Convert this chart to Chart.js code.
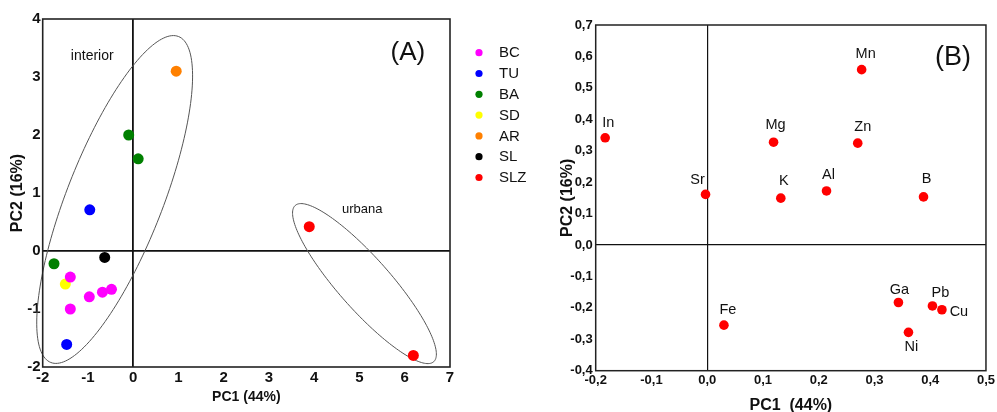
<!DOCTYPE html>
<html>
<head>
<meta charset="utf-8">
<script src="https://cdn.jsdelivr.net/npm/chart.js@4.4.1/dist/chart.umd.min.js"></script>
<style>
  html, body { margin: 0; padding: 0; background: #fff; overflow: hidden; }
  #wrap { position: relative; width: 997px; height: 412px; overflow: hidden; }
  #chartA { position: absolute; left: 0; top: 0; }
  #chartB { position: absolute; left: 545px; top: 0; }
</style>
</head>
<body>
<div id="wrap">
  <canvas id="chartA" width="560" height="412"></canvas>
  <canvas id="chartB" width="452" height="420"></canvas>
</div>
<script>
'use strict';
// =============== data (A) scores ===============
const groups = ['BC', 'TU', 'BA', 'SD', 'AR', 'SL', 'SLZ'];
const groupColors = ['#ff00ff', '#0000ff', '#008000', '#ffff00', '#ff8000', '#000000', '#ff0000'];

const bcX = [-1.39, -1.39, -0.97, -0.68, -0.48];
const bcY = [-0.45, -1.00, -0.79, -0.71, -0.66];
const tuX = [-0.96, -1.47];
const tuY = [0.71, -1.61];
const baX = [-0.10, 0.11, -1.75];
const baY = [2.00, 1.59, -0.22];
const sdX = [-1.50];
const sdY = [-0.57];
const arX = [0.95];
const arY = [3.10];
const slX = [-0.63];
const slY = [-0.11];
const slzX = [3.89, 6.19];
const slzY = [0.42, -1.80];

const xTicksA = [-2, -1, 0, 1, 2, 3, 4, 5, 6, 7];
const yTicksA = [-2, -1, 0, 1, 2, 3, 4];

// =============== data (B) loadings ===============
const elements = ['In', 'Sr', 'Mg', 'K', 'Al', 'Mn', 'Zn', 'B', 'Fe', 'Ga', 'Pb', 'Cu', 'Ni'];
const loadX = [-0.183, -0.003, 0.119, 0.132, 0.214, 0.277, 0.270, 0.388, 0.030, 0.343, 0.404, 0.421, 0.361];
const loadY = [0.341, 0.161, 0.327, 0.149, 0.172, 0.558, 0.324, 0.153, -0.255, -0.183, -0.194, -0.206, -0.278];

// label offsets in px (style only)
const labelOffset = [[3, -15], [-8, -14], [2, -17], [3, -17], [2, -16], [4, -16], [5, -16],
                     [3, -18], [4, -15], [1, -13], [8, -13], [17, 2], [3, 15]];

const FONT = "'Liberation Sans', Arial, sans-serif";

const pts = (xs, ys) => xs.map((x, i) => ({x: x, y: ys[i]}));

// =============== helper plugins ===============
const framePlugin = {
    id: 'frame',
    afterDatasetsDraw(chart, args, opts) {
        const a = chart.chartArea;
        const ctx = chart.ctx;
        ctx.save();
        ctx.strokeStyle = opts.color || '#222';
        ctx.lineWidth = opts.width || 1.5;
        ctx.strokeRect(a.left, a.top, a.right - a.left, a.bottom - a.top);
        ctx.restore();
    }
};

// ellipses given as center + two half-axis vectors, in data units
const ellipses = [
    {cx: -0.41, cy: 0.888, ux: 1.411, uy: 2.810, vx: 0.987, vy: -0.302},
    {cx: 5.11, cy: -0.562, ux: 1.530, uy: -1.347, vx: -0.429, vy: -0.298}
];

const ellipsePlugin = {
    id: 'ellipses',
    beforeDatasetsDraw(chart) {
        const ctx = chart.ctx;
        const xs = chart.scales.x, ys = chart.scales.y;
        ctx.save();
        ctx.strokeStyle = '#555';
        ctx.lineWidth = 1;
        ellipses.forEach((e) => {
            ctx.beginPath();
            for (let k = 0; k <= 180; k++) {
                const t = k / 180 * Math.PI * 2;
                const px = xs.getPixelForValue(e.cx + Math.cos(t) * e.ux + Math.sin(t) * e.vx);
                const py = ys.getPixelForValue(e.cy + Math.cos(t) * e.uy + Math.sin(t) * e.vy);
                if (k === 0) ctx.moveTo(px, py); else ctx.lineTo(px, py);
            }
            ctx.closePath();
            ctx.stroke();
        });
        ctx.restore();
    }
};

// text notes anchored in data units
const notesA = [
    {text: 'interior', x: -0.905, y: 3.36, size: 14},
    {text: 'urbana', x: 5.06, y: 0.72, size: 13},
    {text: '(A)', x: 6.07, y: 3.42, size: 26}
];
const notesB = [
    {text: '(B)', x: 0.441, y: 0.596, size: 27}
];

const notesPlugin = {
    id: 'notes',
    afterDatasetsDraw(chart, args, opts) {
        const ctx = chart.ctx;
        ctx.save();
        ctx.fillStyle = '#111';
        ctx.textAlign = 'center';
        ctx.textBaseline = 'middle';
        opts.items.forEach((n) => {
            ctx.font = n.size + 'px ' + FONT;
            ctx.fillText(n.text, chart.scales.x.getPixelForValue(n.x), chart.scales.y.getPixelForValue(n.y));
        });
        ctx.restore();
    }
};

const legendPlugin = {
    id: 'sideLegend',
    afterDraw(chart) {
        const ctx = chart.ctx;
        ctx.save();
        ctx.font = '15px ' + FONT;
        ctx.textBaseline = 'middle';
        ctx.textAlign = 'left';
        chart.data.datasets.forEach((ds, i) => {
            const y = 52.7 + i * 20.8;
            ctx.fillStyle = ds.backgroundColor;
            ctx.beginPath();
            ctx.arc(479, y, 3.6, 0, Math.PI * 2);
            ctx.fill();
            ctx.fillStyle = '#111';
            ctx.fillText(ds.label, 499, y + 0.5);
        });
        ctx.restore();
    }
};

const pointLabelPlugin = {
    id: 'pointLabels',
    afterDatasetsDraw(chart) {
        const ctx = chart.ctx;
        const meta = chart.getDatasetMeta(0);
        ctx.save();
        ctx.font = '14.5px ' + FONT;
        ctx.fillStyle = '#111';
        ctx.textAlign = 'center';
        ctx.textBaseline = 'middle';
        meta.data.forEach((el, i) => {
            ctx.fillText(elements[i], el.x + labelOffset[i][0], el.y + labelOffset[i][1]);
        });
        ctx.restore();
    }
};

// =============== chart (A) ===============
const seriesA = [pts(bcX, bcY), pts(tuX, tuY), pts(baX, baY), pts(sdX, sdY), pts(arX, arY), pts(slX, slY), pts(slzX, slzY)];

new Chart(document.getElementById('chartA'), {
    type: 'scatter',
    data: {
        datasets: groups.map((g, i) => ({
            label: g,
            data: seriesA[i],
            backgroundColor: groupColors[i],
            borderWidth: 0,
            pointRadius: 5.5
        }))
    },
    options: {
        responsive: false,
        devicePixelRatio: 1,
        animation: false,
        layout: {padding: {left: 0, top: 19, right: 110, bottom: 0}},
        plugins: {
            legend: {display: false},
            tooltip: {enabled: false},
            frame: {color: '#222', width: 1.6},
            notes: {items: notesA}
        },
        scales: {
            x: {
                type: 'linear',
                min: xTicksA[0],
                max: xTicksA[xTicksA.length - 1],
                afterBuildTicks: (s) => { s.ticks = xTicksA.map((v) => ({value: v})); },
                afterFit: (s) => { s.height = 45; },
                grid: {
                    drawTicks: false,
                    lineWidth: 1.8,
                    color: (c) => (c.tick && c.tick.value === 0 ? '#111' : 'rgba(0,0,0,0)')
                },
                border: {display: false},
                ticks: {
                    padding: 2,
                    color: '#111',
                    font: {family: FONT, size: 15, weight: 'bold'}
                },
                title: {
                    display: true,
                    text: 'PC1 (44%)',
                    color: '#111',
                    padding: 6.6,
                    font: {family: FONT, size: 14, weight: 'bold'}
                }
            },
            y: {
                type: 'linear',
                min: yTicksA[0],
                max: yTicksA[yTicksA.length - 1],
                afterBuildTicks: (s) => { s.ticks = yTicksA.map((v) => ({value: v})); },
                afterFit: (s) => { s.width = 42.7; },
                grid: {
                    drawTicks: false,
                    lineWidth: 1.8,
                    color: (c) => (c.tick && c.tick.value === 0 ? '#111' : 'rgba(0,0,0,0)')
                },
                border: {display: false},
                ticks: {
                    padding: 2,
                    color: '#111',
                    font: {family: FONT, size: 15, weight: 'bold'}
                },
                title: {
                    display: true,
                    text: 'PC2 (16%)',
                    color: '#111',
                    padding: 8.4,
                    font: {family: FONT, size: 16, weight: 'bold'}
                }
            }
        }
    },
    plugins: [ellipsePlugin, framePlugin, notesPlugin, legendPlugin]
});

// =============== chart (B) ===============
const fmtComma = (v) => (Math.abs(v) < 1e-9 ? 0 : v).toFixed(1).replace('.', ',');
const isZero = (c) => c.tick && Math.abs(c.tick.value) < 1e-9;

new Chart(document.getElementById('chartB'), {
    type: 'scatter',
    data: {
        datasets: [{
            label: 'loadings',
            data: pts(loadX, loadY),
            backgroundColor: '#ff0000',
            borderWidth: 0,
            pointRadius: 4.8
        }]
    },
    options: {
        responsive: false,
        devicePixelRatio: 1,
        animation: false,
        layout: {padding: {left: 0, top: 25, right: 11, bottom: 0}},
        plugins: {
            legend: {display: false},
            tooltip: {enabled: false},
            frame: {color: '#222', width: 1.5},
            notes: {items: notesB}
        },
        scales: {
            x: {
                type: 'linear',
                min: -0.2,
                max: 0.5,
                afterFit: (s) => { s.height = 49.3; },
                grid: {
                    drawTicks: false,
                    lineWidth: 1.2,
                    color: (c) => (isZero(c) ? '#111' : 'rgba(0,0,0,0)')
                },
                border: {display: false},
                ticks: {
                    stepSize: 0.1,
                    padding: 2,
                    color: '#111',
                    font: {family: FONT, size: 13, weight: 'bold'},
                    callback: (v) => fmtComma(v)
                },
                title: {
                    display: true,
                    text: 'PC1  (44%)',
                    color: '#111',
                    padding: 4.4,
                    font: {family: FONT, size: 16, weight: 'bold'}
                }
            },
            y: {
                type: 'linear',
                min: -0.4,
                max: 0.7,
                afterFit: (s) => { s.width = 50.7; },
                grid: {
                    drawTicks: false,
                    lineWidth: 1.2,
                    color: (c) => (isZero(c) ? '#111' : 'rgba(0,0,0,0)')
                },
                border: {display: false},
                ticks: {
                    stepSize: 0.1,
                    padding: 3,
                    color: '#111',
                    font: {family: FONT, size: 13, weight: 'bold'},
                    callback: (v) => fmtComma(v)
                },
                title: {
                    display: true,
                    text: 'PC2 (16%)',
                    color: '#111',
                    padding: 13.4,
                    font: {family: FONT, size: 16, weight: 'bold'}
                }
            }
        }
    },
    plugins: [framePlugin, notesPlugin, pointLabelPlugin]
});
</script>
</body>
</html>
